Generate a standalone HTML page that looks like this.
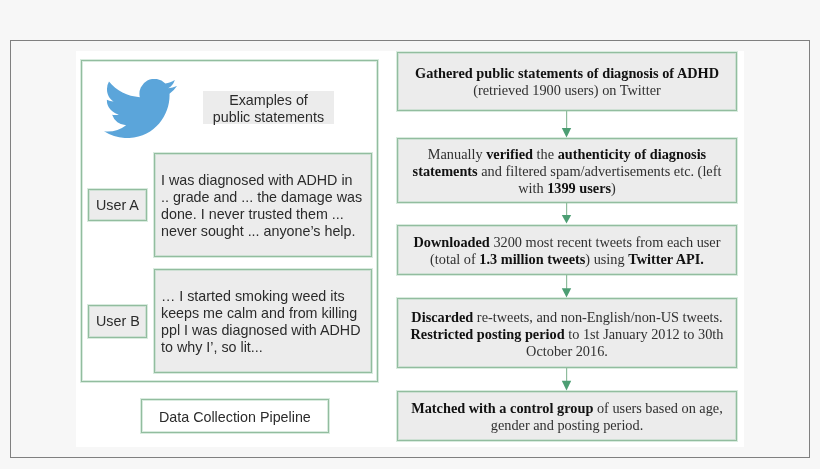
<!DOCTYPE html>
<html>
<head>
<meta charset="utf-8">
<style>
html,body{margin:0;padding:0;}
body{-webkit-font-smoothing:antialiased;width:820px;height:469px;background:#f7f7f7;position:relative;overflow:hidden;font-family:"Liberation Sans",sans-serif;}
.abs{position:absolute;box-sizing:border-box;}
#frame{left:10px;top:40px;width:800px;height:418px;border:1px solid #808080;}
#img{left:76px;top:51px;width:668px;height:396px;background:#fff;}
.gb{border:1px solid #92bd9f;box-shadow:0 0 0 1px rgba(170,210,185,0.45), inset 0 0 0 1px rgba(170,210,185,0.45);}
.gray{background:#ececec;}
.sans{font-family:"Liberation Sans",sans-serif;font-size:14.3px;color:#2b2b2b;}
.serif{font-family:"Liberation Serif",serif;font-size:14.3px;color:#303030;text-align:center;line-height:17px;}
.serif b{font-weight:bold;color:#111;}
.line{white-space:nowrap;}
</style>
</head>
<body><div id="wrap" style="position:absolute;left:0;top:0;width:820px;height:469px;will-change:transform;">
<div class="abs" id="frame"></div>
<div class="abs" id="img"></div>

<!-- left panel -->
<div class="abs gb" style="left:81px;top:60px;width:297px;height:322px;"></div>

<svg class="abs" style="left:104px;top:78.5px;width:73px;height:59.5px;" viewBox="0 2.3 24 19.6" preserveAspectRatio="none">
<path fill="#5ba5da" d="M23.953 4.57a10 10 0 01-2.825.775 4.958 4.958 0 002.163-2.723c-.951.555-2.005.959-3.127 1.184a4.920 4.920 0 00-8.384 4.482C7.690 8.095 4.067 6.130 1.640 3.162a4.822 4.822 0 00-.666 2.475c0 1.710.870 3.213 2.188 4.096a4.904 4.904 0 01-2.228-.616v.06a4.923 4.923 0 003.946 4.827 4.996 4.996 0 01-2.212.085 4.936 4.936 0 004.604 3.417 9.867 9.867 0 01-6.102 2.105c-.39 0-.779-.023-1.17-.067a13.995 13.995 0 007.557 2.209c9.053 0 13.998-7.496 13.998-13.985 0-.21 0-.42-.015-.63A9.935 9.935 0 0024 4.590z"/>
</svg>

<div class="abs gray sans" style="left:203px;top:91px;width:131px;height:33px;text-align:center;line-height:17px;padding-top:0.6px;">Examples of<br>public statements</div>

<div class="abs gb gray sans" style="left:88px;top:189px;width:59px;height:32px;line-height:30px;padding-left:7px;">User A</div>
<div class="abs gb gray sans" style="left:154px;top:153px;width:218px;height:104px;line-height:17px;padding:18px 0 0 6px;">I was diagnosed with ADHD in<br>.. grade and ... the damage was<br>done. I never trusted them ...<br>never sought ... anyone’s help.</div>

<div class="abs gb gray sans" style="left:88px;top:305px;width:59px;height:33px;line-height:30px;padding-left:7px;">User B</div>
<div class="abs gb gray sans" style="left:154px;top:269px;width:218px;height:104px;line-height:17px;padding:18px 0 0 6px;">… I started smoking weed its<br>keeps me calm and from killing<br>ppl I was diagnosed with ADHD<br>to why I’, so lit...</div>

<div class="abs gb sans" style="left:141px;top:399px;width:188px;height:34px;line-height:30px;padding-top:2px;padding-left:17px;background:#fff;">Data Collection Pipeline</div>

<!-- right column -->
<div class="abs gb gray serif" style="left:397px;top:52px;width:340px;height:59px;padding-top:12px;"><div class="line"><b>Gathered public statements of diagnosis of ADHD</b></div><div class="line">(retrieved 1900 users) on Twitter</div></div>

<div class="abs gb gray serif" style="left:397px;top:138px;width:340px;height:65px;padding-top:7px;"><div class="line">Manually <b>verified</b> the <b>authenticity of diagnosis</b></div><div class="line"><b>statements</b> and filtered spam/advertisements etc. (left</div><div class="line">with <b>1399 users</b>)</div></div>

<div class="abs gb gray serif" style="left:397px;top:225px;width:340px;height:50px;padding-top:8px;"><div class="line"><b>Downloaded</b> 3200 most recent tweets from each user</div><div class="line">(total of <b>1.3 million tweets</b>) using <b>Twitter API.</b></div></div>

<div class="abs gb gray serif" style="left:397px;top:298px;width:340px;height:70px;padding-top:10px;"><div class="line"><b>Discarded</b> re-tweets, and non-English/non-US tweets.</div><div class="line"><b>Restricted posting period</b> to 1st January 2012 to 30th</div><div class="line">October 2016.</div></div>

<div class="abs gb gray serif" style="left:397px;top:391px;width:340px;height:50px;padding-top:8px;"><div class="line"><b>Matched with a control group</b> of users based on age,</div><div class="line">gender and posting period.</div></div>

<svg class="abs" style="left:0;top:0;width:820px;height:469px;" width="820" height="469"><rect x="566" y="111" width="1.2" height="17.5" fill="#8fbc9d"/><polygon points="561.8,128 571.2,128 566.5,137.6" fill="#4c9e73"/><rect x="566" y="203" width="1.2" height="12.5" fill="#8fbc9d"/><polygon points="561.8,215 571.2,215 566.5,223.6" fill="#4c9e73"/><rect x="566" y="275" width="1.2" height="13.800000000000011" fill="#8fbc9d"/><polygon points="561.8,288.3 571.2,288.3 566.5,297.6" fill="#4c9e73"/><rect x="566" y="368" width="1.2" height="13.300000000000011" fill="#8fbc9d"/><polygon points="561.8,380.8 571.2,380.8 566.5,390.4" fill="#4c9e73"/></svg>
</div></body>
</html>
